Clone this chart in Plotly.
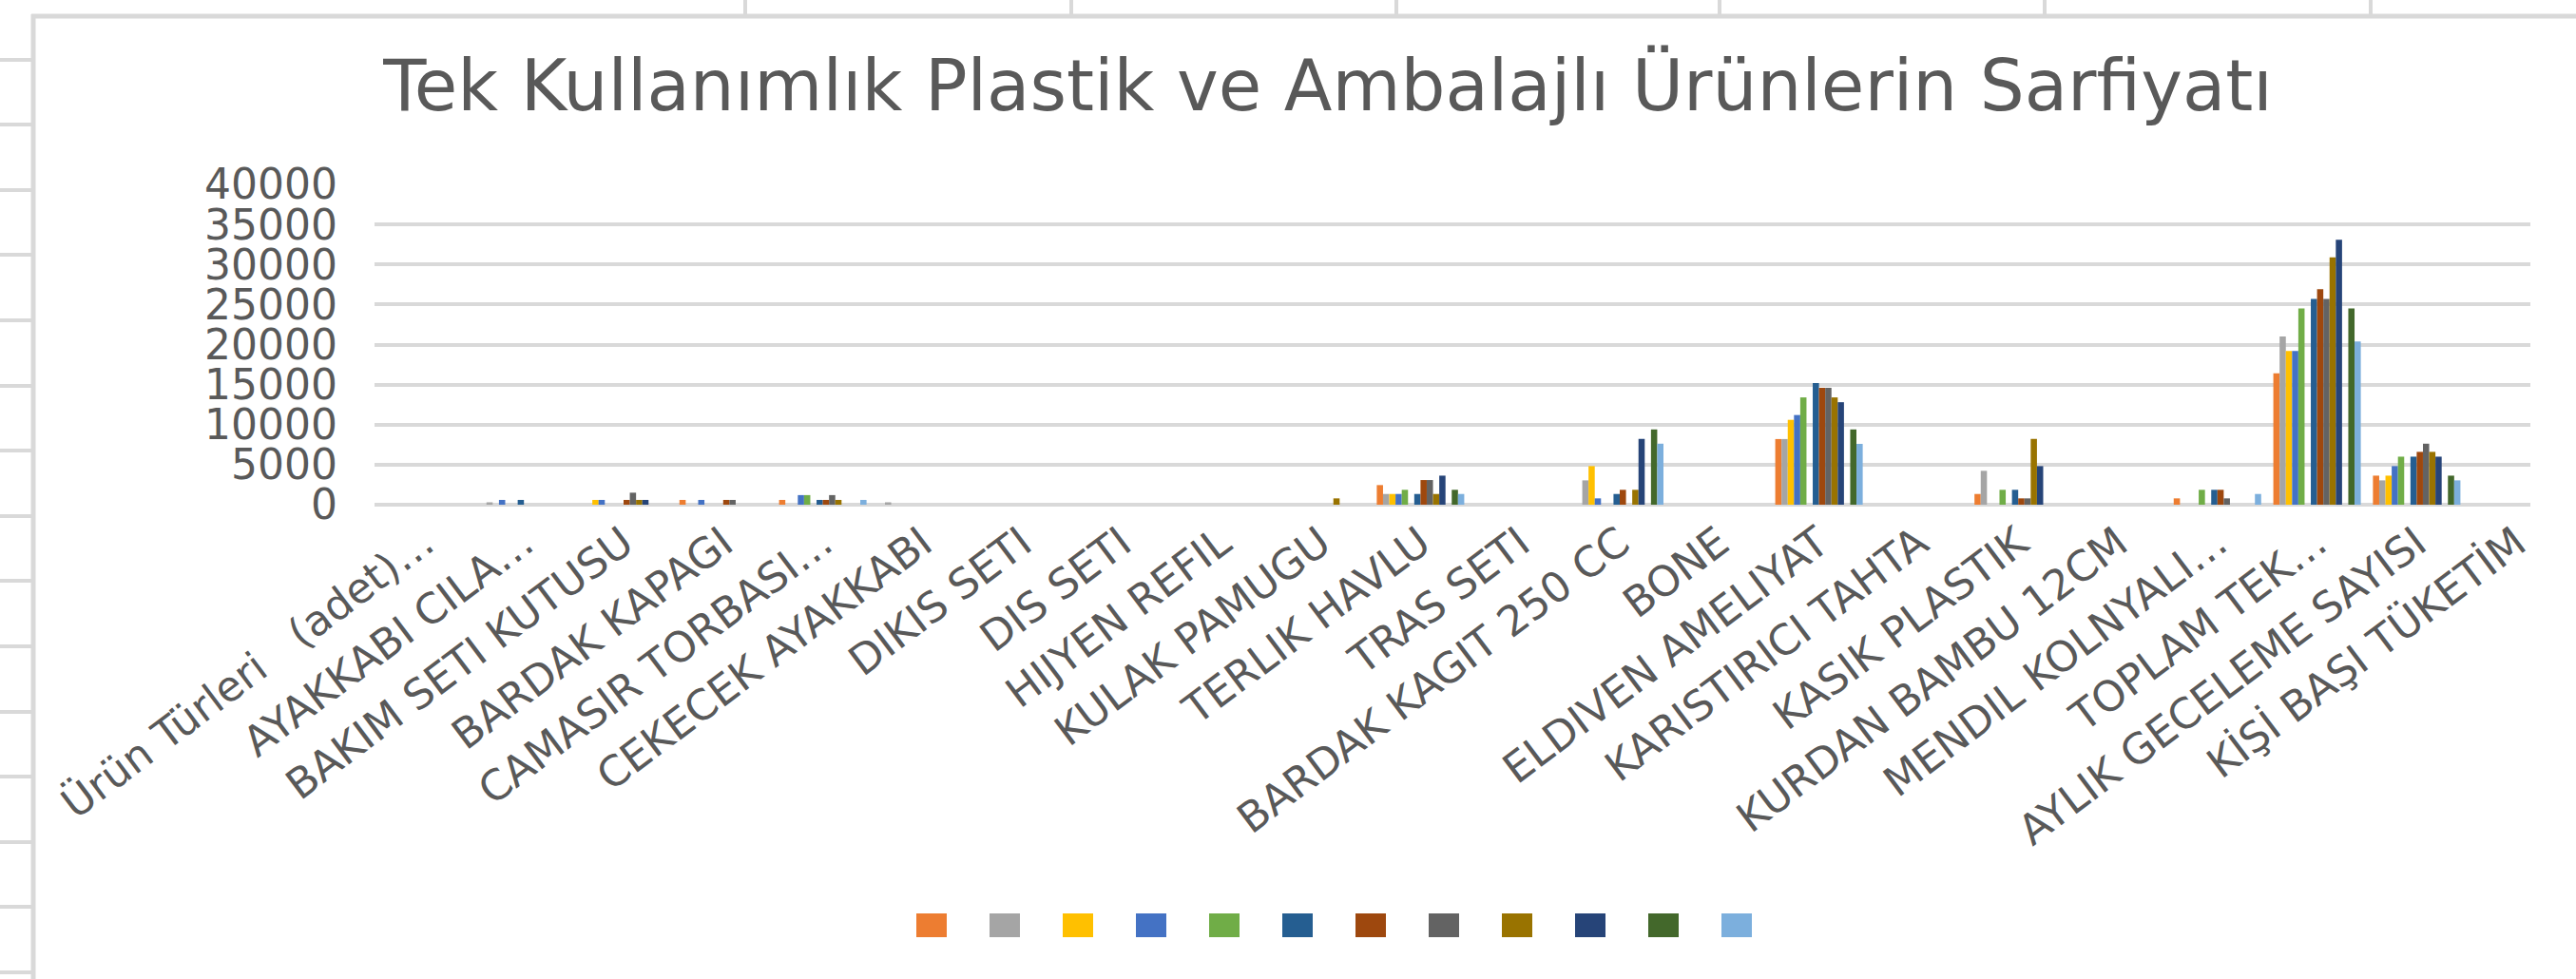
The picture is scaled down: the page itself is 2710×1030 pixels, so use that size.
import plotly.graph_objects as go

# ---------------- data ----------------
categories = [
    "Ürün Türleri\u00a0\u00a0\u00a0(adet)…",
    "AYAKKABI CILA…",
    "BAKIM SETI KUTUSU",
    "BARDAK KAPAGI",
    "CAMASIR TORBASI…",
    "CEKECEK AYAKKABI",
    "DIKIS SETI",
    "DIS SETI",
    "HIJYEN REFIL",
    "KULAK PAMUGU",
    "TERLIK HAVLU",
    "TRAS SETI",
    "BARDAK KAGIT 250 CC",
    "BONE",
    "ELDIVEN AMELIYAT",
    "KARISTIRICI TAHTA",
    "KASIK PLASTIK",
    "KURDAN BAMBU 12CM",
    "MENDIL KOLNYALI…",
    "TOPLAM TEK…",
    "AYLIK GECELEME SAYISI",
    "KİŞİ BAŞI TÜKETİM",
]

#            1  2    3    4    5     6    7  8  9  10   11    12  13    14  15     16  17    18  19    20     21    22
s_orange = [0, 0,   0,   600, 600,  0,   0, 0, 0, 0,   2450, 0,  0,    0,  8200,  0,  1340, 0,  790,  16400, 3630, 0]
s_gray   = [0, 300, 0,   0,   0,    300, 0, 0, 0, 0,   1340, 0,  3040, 0,  8200,  0,  4230, 0,  0,    21000, 3040, 0]
s_yellow = [0, 0,   600, 0,   0,    0,   0, 0, 0, 0,   1340, 0,  4820, 0,  10600, 0,  0,    0,  0,    19200, 3630, 0]
s_blue   = [0, 600, 600, 600, 1200, 0,   0, 0, 0, 0,   1340, 0,  790,  0,  11200, 0,  0,    0,  0,    19200, 4820, 0]
s_green  = [0, 0,   0,   0,   1200, 0,   0, 0, 0, 0,   1860, 0,  0,    0,  13400, 0,  1860, 0,  1860, 24500, 6000, 0]
s_emptyA = [0, 0,   0,   0,   0,    0,   0, 0, 0, 0,   0,    0,  0,    0,  0,     0,  0,    0,  0,    0,     0,    0]
s_dblue  = [0, 600, 0,   0,   600,  0,   0, 0, 0, 0,   1340, 0,  1340, 0,  15200, 0,  1860, 0,  1860, 25700, 6000, 0]
s_brown  = [0, 0,   600, 600, 600,  0,   0, 0, 0, 0,   3080, 0,  1860, 0,  14600, 0,  790,  0,  1860, 26900, 6600, 0]
s_dgray  = [0, 0,   1500, 600, 1200, 0,  0, 0, 0, 0,   3080, 0,  0,    0,  14600, 0,  790,  0,  790,  25700, 7620, 0]
s_gold   = [0, 0,   600, 0,   600,  0,   0, 0, 0, 790, 1340, 0,  1860, 0,  13400, 0,  8220, 0,  0,    30900, 6600, 0]
s_navy   = [0, 0,   600, 0,   0,    0,   0, 0, 0, 0,   3630, 0,  8220, 0,  12800, 0,  4820, 0,  0,    33100, 6000, 0]
s_emptyB = [0, 0,   0,   0,   0,    0,   0, 0, 0, 0,   0,    0,  0,    0,  0,     0,  0,    0,  0,    0,     0,    0]
s_dgreen = [0, 0,   0,   0,   0,    0,   0, 0, 0, 0,   1860, 0,  9400, 0,  9400,  0,  0,    0,  0,    24500, 3630, 0]
s_lblue  = [0, 0,   0,   0,   600,  0,   0, 0, 0, 0,   1340, 0,  7620, 0,  7600,  0,  0,    0,  1340, 20400, 3040, 0]

series = [
    (s_orange, "#ED7D31", True),
    (s_gray, "#A5A5A5", True),
    (s_yellow, "#FFC000", True),
    (s_blue, "#4472C4", True),
    (s_green, "#70AD47", True),
    (s_emptyA, "#FFFFFF", False),
    (s_dblue, "#255E91", True),
    (s_brown, "#9E480E", True),
    (s_dgray, "#636363", True),
    (s_gold, "#997300", True),
    (s_navy, "#264478", True),
    (s_emptyB, "#FFFFFF", False),
    (s_dgreen, "#43682B", True),
    (s_lblue, "#7CAFDD", True),
]

y_ticks = [0, 5000, 10000, 15000, 20000, 25000, 30000, 35000, 40000]
y_tick_labels = ["0", "5000", "10000", "15000", "20000", "25000", "30000", "35000", "40000"]
title_text = "Tek Kullanımlık Plastik ve Ambalajlı Ürünlerin Sarfiyatı"

# ---------------- geometry (pixels of the 2710x1030 page) ----------------
W, H = 2710, 1030
PL, PR, PT, PB = 394, 2662, 194, 531
CAT_W = 104.8          # pixel width of one category slot
GRID = "#d9d9d9"
TXT = "#595959"
FONT = "DejaVu Sans"


def fx(px):
    return (px - PL) / (PR - PL)


def fy(py):
    return (PB - py) / (PB - PT)


fig = go.Figure()
for vals, color, _vis in series:
    fig.add_trace(go.Bar(x=categories, y=vals, marker=dict(color=color, line=dict(width=0)),
                         showlegend=False, hoverinfo="skip"))

shapes = []
# chart-area border (left & top)
shapes.append(dict(type="line", xref="paper", yref="paper", x0=fx(35), x1=fx(35), y0=fy(15), y1=fy(H + 5),
                   line=dict(color=GRID, width=5), layer="below"))
shapes.append(dict(type="line", xref="paper", yref="paper", x0=fx(33), x1=fx(W + 5), y0=fy(17), y1=fy(17),
                   line=dict(color=GRID, width=5), layer="below"))
# spreadsheet cell lines visible outside the chart
for py in [63, 131, 200, 268, 337, 406, 474, 543, 611, 680, 749, 817, 886, 954, 1023]:
    shapes.append(dict(type="line", xref="paper", yref="paper", x0=fx(0), x1=fx(33), y0=fy(py), y1=fy(py),
                       line=dict(color=GRID, width=4), layer="below"))
for px in [784, 1127, 1469, 1809, 2151, 2494]:
    shapes.append(dict(type="line", xref="paper", yref="paper", x0=fx(px), x1=fx(px), y0=fy(0), y1=fy(15),
                       line=dict(color=GRID, width=4), layer="below"))
# legend swatches (series have no names)
legend_colors = [c for _v, c, vis in series if vis]
for i, c in enumerate(legend_colors):
    cx = 980 + 77 * i
    shapes.append(dict(type="rect", xref="paper", yref="paper", x0=fx(cx - 16), x1=fx(cx + 16),
                       y0=fy(986), y1=fy(961), fillcolor=c, line=dict(width=0)))

fig.update_layout(
    template="none",
    width=W, height=H,
    margin=dict(l=PL, r=W - PR, t=PT, b=H - PB, pad=0, autoexpand=False),
    paper_bgcolor="white", plot_bgcolor="white",
    barmode="group", bargap=0.122, bargroupgap=0,
    showlegend=False,
    title=dict(text=title_text, x=1397 / W, xref="container", xanchor="center",
               y=1 - 90 / H, yref="container", yanchor="middle",
               font=dict(family=FONT, size=74, color=TXT)),
    xaxis=dict(type="category", range=[-0.5, -0.5 + (PR - PL) / CAT_W],
               tickangle=-37, showgrid=False, showline=False, ticks="",
               tickfont=dict(family=FONT, size=44, color=TXT), automargin=False,
               ticklabelstandoff=5, ticklabelshift=0),
    yaxis=dict(range=[0, 40000], tickvals=y_ticks, ticktext=y_tick_labels,
               showgrid=True, gridcolor=GRID, gridwidth=4,
               zeroline=True, zerolinecolor=GRID, zerolinewidth=4, showline=False, ticks="",
               tickfont=dict(family=FONT, size=44, color=TXT), automargin=False,
               ticklabelstandoff=38),
    shapes=shapes,
    font=dict(family=FONT, color=TXT),
)

fig.write_html("out.html", config={"displayModeBar": False},
               post_script="document.body.style.margin='0';document.body.style.overflow='hidden';")
